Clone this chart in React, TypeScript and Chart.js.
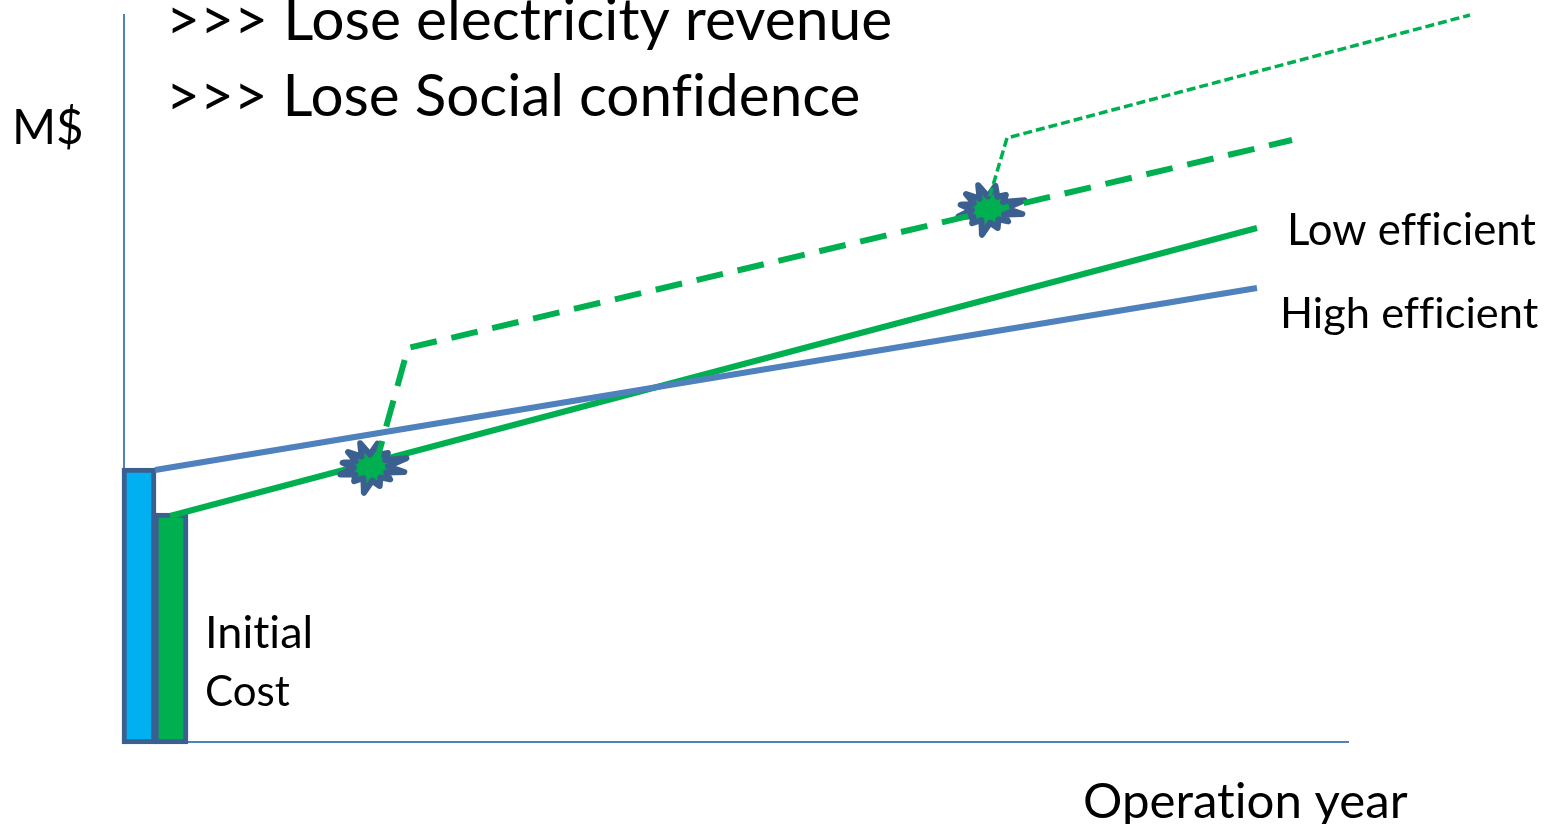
import React, { useEffect, useRef } from "react";
import { Chart, registerables } from "chart.js";

Chart.register(...registerables);

// Values, in axis units
const initialCostHigh = [{ x: 15, y: [-2, 274] }];
const initialCostLow = [{ x: 47, y: [-2, 229] }];
const highEfficient = [{ x: 31, y: 272 }, { x: 1133, y: 454 }];
const lowEfficient = [{ x: 46, y: 226 }, { x: 1133, y: 514 }];
const firstFailurePath = [{ x: 251, y: 275 }, { x: 284, y: 394 }, { x: 1168, y: 602 }];
const secondFailurePath = [{ x: 862, y: 533 }, { x: 883, y: 604 }, { x: 1346, y: 727 }];
const failures = [{ x: 247, y: 275 }, { x: 865, y: 533 }];

const SANS = "Lato, 'Open Sans', sans-serif";
const labels = [
  { text: ">>> Lose electricity revenue", x: 166, y: 40, size: 58.7 },
  { text: ">>> Lose Social confidence", x: 166, y: 116, size: 58.4 },
  { text: "M$", x: 12, y: 144, size: 47.5 },
  { text: "Low efficient", x: 1287, y: 245, size: 43.7 },
  { text: "High efficient", x: 1280, y: 328, size: 43.4 },
  { text: "Initial", x: 205, y: 648, size: 45 },
  { text: "Cost", x: 205, y: 706, size: 42 },
  { text: "Operation year", x: 1083, y: 818, size: 49.2 },
];

const burstRadii = [1, 0.5, 0.75, 0.5, 0.8, 0.55, 1.05, 0.5, 0.75, 0.55, 0.95, 0.5, 0.85, 0.5, 0.9, 0.5, 1, 0.5, 0.95, 0.55, 0.75, 0.5, 1.1, 0.5];

function makeBurst() {
  const c = document.createElement("canvas");
  c.width = 88;
  c.height = 64;
  const g = c.getContext("2d")!;
  g.beginPath();
  burstRadii.forEach((r, i) => {
    const a = (i / burstRadii.length) * Math.PI * 2 + 0.2;
    const px = 44 + Math.cos(a) * 34 * r;
    const py = 32 + Math.sin(a) * 25 * r;
    if (i === 0) g.moveTo(px, py);
    else g.lineTo(px, py);
  });
  g.closePath();
  g.fillStyle = "#00B050";
  g.fill();
  g.lineWidth = 6;
  g.lineJoin = "round";
  g.strokeStyle = "#3B5F8F";
  g.stroke();
  return c;
}

const textPlugin = {
  id: "slideText",
  afterDraw(chart: any) {
    const ctx = chart.ctx;
    ctx.save();
    ctx.fillStyle = "#000";
    ctx.textBaseline = "alphabetic";
    ctx.textAlign = "left";
    ctx.letterSpacing = "0.01px";
    labels.forEach((l) => {
      ctx.font = `${l.size}px ${SANS}`;
      ctx.fillText(l.text, l.x, l.y);
    });
    ctx.restore();
  },
};

export default function App() {
  const ref = useRef<HTMLCanvasElement>(null);
  useEffect(() => {
    document.body.style.margin = "0";
    document.body.style.overflow = "hidden";
    const line = (data: any[], color: string, width: number, order: number, dash: number[] = []) => ({
      type: "line" as const,
      data,
      borderColor: color,
      borderWidth: width,
      borderDash: dash,
      pointRadius: 0,
      tension: 0,
      fill: false,
      clip: false as any,
      order,
    });
    const bar = (data: any[], color: string) => ({
      type: "bar" as const,
      data,
      backgroundColor: color,
      borderColor: "#3B5F8F",
      borderWidth: 5,
      borderSkipped: false as any,
      barThickness: 34,
      grouped: false,
      clip: false as any,
      order: 10,
    });
    const chart = new Chart(ref.current!, {
      data: {
        datasets: [
          bar(initialCostHigh, "#00B0F0"),
          bar(initialCostLow, "#00B050"),
          line(lowEfficient, "#00B050", 6, 6),
          {
            type: "scatter" as const,
            data: failures,
            pointStyle: makeBurst(),
            showLine: false,
            clip: false as any,
            order: 5,
          },
          line(firstFailurePath, "#00B050", 6, 4, [27, 15]),
          line(secondFailurePath, "#00B050", 3.5, 3, [9, 4]),
          line(highEfficient, "#4F81BD", 6, 2),
        ] as any,
      },
      options: {
        animation: false,
        responsive: false,
        layout: { padding: { left: 124, right: 202, top: 15, bottom: 82 } },
        plugins: { legend: { display: false }, tooltip: { enabled: false } },
        scales: {
          x: {
            type: "linear",
            offset: false,
            min: 0,
            max: 1224,
            grid: { display: false, drawTicks: false, tickLength: 0 },
            ticks: { display: false },
            border: { color: "#4F81BD", width: 2 },
          },
          y: {
            type: "linear",
            min: 0,
            max: 727,
            grid: { display: false, drawTicks: false, tickLength: 0 },
            ticks: { display: false },
            border: { color: "#4F81BD", width: 2 },
          },
        },
      } as any,
      plugins: [textPlugin],
    });
    return () => chart.destroy();
  }, []);
  return <canvas ref={ref} width={1550} height={824} style={{ display: "block" }} />;
}
